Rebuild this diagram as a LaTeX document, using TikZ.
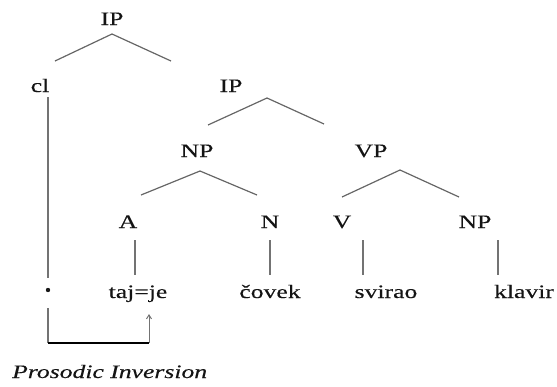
\documentclass[tikz,border=0pt]{standalone}
\usepackage{fontspec}
\setmainfont{Liberation Serif}[FakeStretch=1.35,FakeBold=0.3]
\usetikzlibrary{arrows.meta}
\begin{document}
\begin{tikzpicture}[x=1pt,y=-1pt,
  lab/.style={anchor=base,inner sep=0pt,font=\fontsize{19}{19}\selectfont,text=black!92},
  branch/.style={draw=black!60,line width=1.2pt},
  stem/.style={draw=black!55,line width=1.2pt},
  bracket/.style={draw=black,line width=2pt},
  raise/.style={draw=black!55,line width=1pt,-{Straight Barb[length=4pt,width=5pt]}}]
\useasboundingbox (0,0) rectangle (557,386);

% category labels
\node[lab] (ip1) at (112,25) {IP};
\node[lab] (cl)  at (40,92)  {cl};
\node[lab] (ip2) at (231,92) {IP};
\node[lab] (np1) at (197,157) {NP};
\node[lab] (vp)  at (371,157) {VP};
\node[lab] (a)   at (128,228) {A};
\node[lab] (n)   at (270,228) {N};
\node[lab] (v)   at (342,228) {V};
\node[lab] (np2) at (475,228) {NP};

% terminals
\node[lab] (w1) at (138,298) {taj=je};
\node[lab] (w2) at (270,298) {čovek};
\node[lab] (w3) at (386,298) {svirao};
\node[lab] (w4) at (524,298) {klavir};
\node[lab,font=\fontsize{19}{19}\selectfont\itshape,anchor=base west] (pi) at (12,378) {Prosodic Inversion};

% trace position of the clitic
\fill[black!90] (48,290) circle (2.2);
\coordinate (dot) at (48,290);

% branch end points
\coordinate (ip1t) at (112,34);
\coordinate (ip1l) at (55,61);
\coordinate (ip1r) at (171,61);
\coordinate (ip2t) at (267,98);
\coordinate (ip2l) at (208,125);
\coordinate (ip2r) at (324,124);
\coordinate (np1t) at (200,171);
\coordinate (np1l) at (141,195);
\coordinate (np1r) at (257,195);
\coordinate (vpt)  at (400,170);
\coordinate (vpl)  at (342,197);
\coordinate (vpr)  at (459,197);

\draw[branch] (ip1l) -- (ip1t) -- (ip1r);
\draw[branch] (ip2l) -- (ip2t) -- (ip2r);
\draw[branch] (np1l) -- (np1t) -- (np1r);
\draw[branch] (vpl) -- (vpt) -- (vpr);

% unary stems
\draw[stem] (135,240) -- (135,275);
\draw[stem] (270,240) -- (270,275);
\draw[stem] (363,240) -- (363,275);
\draw[stem] (498,240) -- (498,275);

% clitic line down to its base position
\coordinate (clb) at (48,97);
\coordinate (cle) at (48,278);
\draw[stem] (clb) -- (cle);

% prosodic inversion bracket
\coordinate (bl) at (48,308);
\coordinate (bc) at (48,343);
\coordinate (br) at (149,343);
\coordinate (bt) at (149,314);
\draw[stem] (bl) -- (bc);
\draw[bracket] (bc) -- (br);
\draw[raise] (br) -- (bt);
\end{tikzpicture}
\end{document}
